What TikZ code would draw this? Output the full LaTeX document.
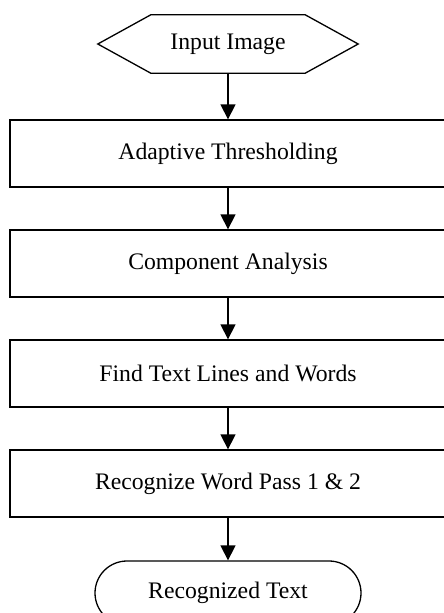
\documentclass[tikz,border=0pt]{standalone}
\usepackage{fontspec}
\setmainfont{Liberation Serif}
\usetikzlibrary{arrows.meta}
\begin{document}
\begin{tikzpicture}[x=1pt,y=-1pt,
  every node/.style={font=\fontsize{23.7}{28}\selectfont},
  procbox/.style={draw, line width=1.3pt, minimum width=436pt, minimum height=67pt, inner sep=0pt},
  hexframe/.style={minimum width=260pt, minimum height=58pt, inner sep=0pt},
  termbox/.style={draw, line width=1.3pt, rounded corners=32pt, minimum width=266pt, minimum height=64pt, inner sep=0pt},
  flow/.style={line width=1.3pt, -{Triangle[length=15pt,width=15pt]}}]
\useasboundingbox (0,0) rectangle (444,613);
\node[hexframe] (in) at (228,44) {Input Image};
\draw[line width=1.3pt] (in.west) -- ([xshift=53pt]in.north west) -- ([xshift=-53pt]in.north east)
  -- (in.east) -- ([xshift=-53pt]in.south east) -- ([xshift=53pt]in.south west) -- cycle;
\node[procbox] (b1) at (228,153.5) {Adaptive Thresholding};
\node[procbox] (b2) at (228,263.5) {Component Analysis};
\node[procbox] (b3) at (228,373.5) {Find Text Lines and Words};
\node[procbox] (b4) at (228,483.5) {Recognize Word Pass 1 \& 2};
\node[termbox] (out) at (228,593) {Recognized Text};
\draw[flow] (in.south) -- (b1.north);
\draw[flow] (b1) -- (b2);
\draw[flow] (b2) -- (b3);
\draw[flow] (b3) -- (b4);
\draw[flow] (b4) -- (out);
\end{tikzpicture}
\end{document}
